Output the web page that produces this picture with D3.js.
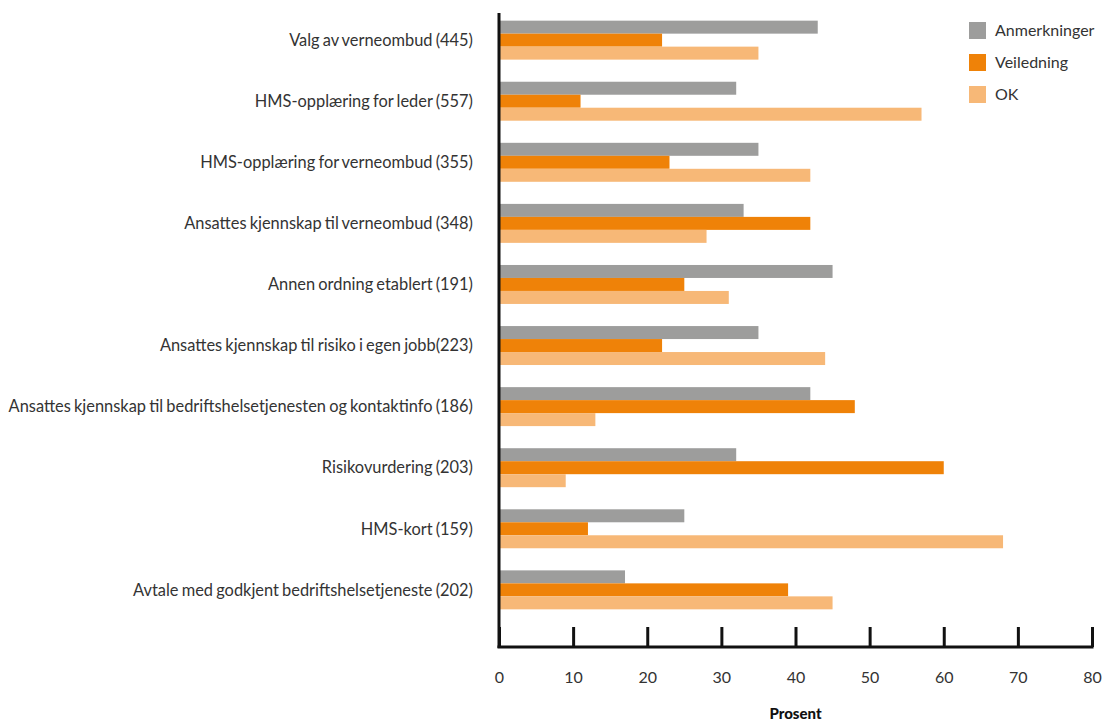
<!DOCTYPE html>
<html>
<head>
<meta charset="utf-8">
<script src="https://cdn.jsdelivr.net/npm/d3@7"></script>
<style>
  html, body { margin: 0; padding: 0; background: #fff; }
  svg text { font-family: Lato, "Noto Sans", sans-serif; fill: #333; }
</style>
</head>
<body>
<svg id="chart" width="1103" height="721"></svg>
<script>
const categories = [
  "Valg av verneombud (445)",
  "HMS-opplæring for leder (557)",
  "HMS-opplæring for verneombud (355)",
  "Ansattes kjennskap til verneombud (348)",
  "Annen ordning etablert (191)",
  "Ansattes kjennskap til risiko i egen jobb(223)",
  "Ansattes kjennskap til bedriftshelsetjenesten og kontaktinfo (186)",
  "Risikovurdering (203)",
  "HMS-kort (159)",
  "Avtale med godkjent bedriftshelsetjeneste (202)"
];
const seriesNames = ["Anmerkninger", "Veiledning", "OK"];
const anmerkninger = [43, 32, 35, 33, 45, 35, 42, 32, 25, 17];
const veiledning   = [22, 11, 23, 42, 25, 22, 48, 60, 12, 39];
const ok           = [35, 57, 42, 28, 31, 44, 13, 9, 68, 45];
const xTicks = [0, 10, 20, 30, 40, 50, 60, 70, 80];
const colors = ["#9d9d9c", "#ef8208", "#f7b877"];

const seriesValues = [anmerkninger, veiledning, ok];
const svg = d3.select("#chart");

const x = d3.scaleLinear().domain([0, 80]).range([499, 1092]);
const y = d3.scaleBand().domain(categories).range([9.6, 620.4])
  .paddingInner(0.362).paddingOuter(0.181);
const ySub = d3.scaleBand().domain(seriesNames).range([0, y.bandwidth()]);

// grouped bars
const groups = svg.append("g").selectAll("g")
  .data(categories)
  .join("g")
  .attr("transform", d => `translate(0,${y(d)})`);

groups.selectAll("rect")
  .data((c, i) => seriesNames.map((s, k) => ({ s, k, v: seriesValues[k][i] })))
  .join("rect")
  .attr("x", x(0) + 1)
  .attr("y", d => ySub(d.s))
  .attr("width", d => x(d.v) - x(0) - 1)
  .attr("height", ySub.bandwidth())
  .attr("fill", d => colors[d.k]);

// category labels
svg.append("g").selectAll("text")
  .data(categories)
  .join("text")
  .attr("x", 473)
  .attr("y", d => y(d) + y.bandwidth() / 2)
  .attr("dy", "0.35em")
  .attr("text-anchor", "end")
  .attr("font-size", 16.4)
  .attr("word-spacing", -1)
  .text(d => d);

// vertical axis line
svg.append("line")
  .attr("x1", x(0)).attr("x2", x(0))
  .attr("y1", 13).attr("y2", 648)
  .attr("stroke", "#111").attr("stroke-width", 3);

// x axis with inward ticks
const xAxis = d3.axisBottom(x).tickValues(xTicks).tickSize(-20).tickPadding(0);
const gx = svg.append("g").attr("transform", "translate(0,647)").call(xAxis);
gx.select(".domain").attr("stroke", "#111").attr("stroke-width", 3)
  .attr("d", `M${x(0) - 1.5},0H${x(80) + 1.5}`);
gx.selectAll(".tick line").attr("stroke", "#111").attr("stroke-width", 3);
gx.selectAll(".tick text")
  .attr("y", 30)
  .attr("dy", "0.35em")
  .attr("font-size", 16)
  .attr("fill", "#333")
  .style("font-family", "Lato, 'Noto Sans', sans-serif");

svg.append("text")
  .attr("x", (x(0) + x(80)) / 2)
  .attr("y", 719)
  .attr("text-anchor", "middle")
  .attr("font-size", 15)
  .attr("font-weight", 900)
  .style("fill", "#111")
  .text("Prosent");

// legend
const legend = svg.append("g").selectAll("g")
  .data(seriesNames)
  .join("g")
  .attr("transform", (d, i) => `translate(969,${22 + i * 32})`);
legend.append("rect").attr("width", 17).attr("height", 17)
  .attr("fill", (d, i) => colors[i]);
legend.append("text").attr("x", 26).attr("y", 8.5).attr("dy", "0.35em")
  .attr("font-size", 16).text(d => d);
</script>
</body>
</html>
